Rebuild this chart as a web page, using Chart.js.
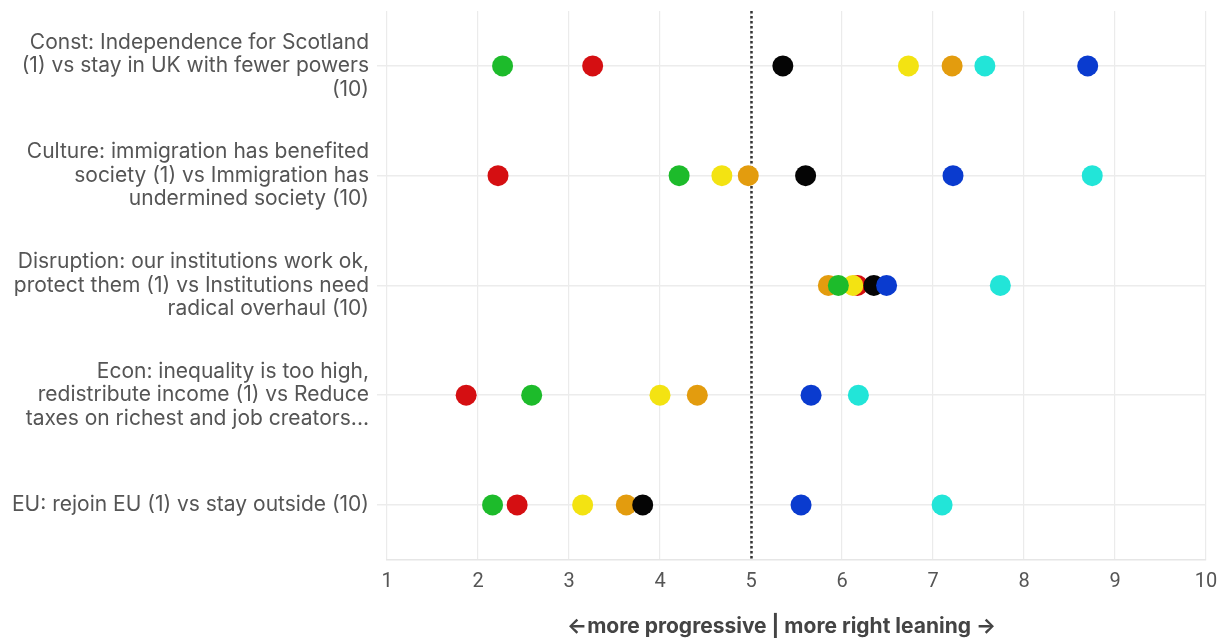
<!DOCTYPE html>
<html>
<head>
<meta charset="utf-8">
<script src="https://cdn.jsdelivr.net/npm/chart.js@4.4.1/dist/chart.umd.min.js"></script>
<style>
  html, body { margin: 0; padding: 0; background: #fff; }
  #wrap { width: 1221px; height: 640px; position: relative; }
</style>
</head>
<body>
<div id="wrap"><canvas id="c" width="1221" height="640"></canvas></div>
<script>
// Categories (multi-line labels)
const categories = [
  ["Const: Independence for Scotland", "(1) vs stay in UK with fewer powers", "(10)"],
  ["Culture: immigration has benefited", "society (1) vs Immigration has", "undermined society (10)"],
  ["Disruption: our institutions work ok,", "protect them (1) vs Institutions need", "radical overhaul (10)"],
  ["Econ: inequality is too high,", "redistribute income (1) vs Reduce", "taxes on richest and job creators..."],
  ["EU: rejoin EU (1) vs stay outside (10)"]
];

// Series values (one per category, in order above)
const greenVals  = [2.27, 4.21, 5.96, 2.59, 2.16];
const redVals    = [3.26, 2.22, 6.17, 1.87, 2.43];
const blackVals  = [5.35, 5.60, 6.35, null, 3.81];
const yellowVals = [6.73, 4.68, 6.12, 4.00, 3.15];
const orangeVals = [7.21, 4.97, 5.85, 4.41, 3.63];
const cyanVals   = [7.57, 8.75, 7.74, 6.18, 7.10];
const blueVals   = [8.70, 7.22, 6.49, 5.66, 5.55];

const xTicks = [1, 2, 3, 4, 5, 6, 7, 8, 9, 10];
const midpoint = 5;
const axisTitle = "\u2190more progressive | more right leaning \u2192\u00A0\u00A0\u00A0\u00A0\u00A0\u00A0";

function ds(label, data, color, order) {
  return {
    label, data, order,
    backgroundColor: color,
    borderColor: color,
    borderWidth: 0,
    pointRadius: 10.5,
    pointHoverRadius: 10.5,
    pointBorderWidth: 0,
    showLine: false
  };
}

const refLine = {
  id: 'refLine',
  beforeDatasetsDraw(chart) {
    const {ctx, chartArea, scales} = chart;
    const x = Math.round(scales.x.getPixelForValue(midpoint)) + 0.5;
    ctx.save();
    ctx.strokeStyle = '#333';
    ctx.lineWidth = 2.5;
    ctx.setLineDash([2.5, 2.5]);
    ctx.beginPath();
    ctx.moveTo(x, chartArea.top);
    ctx.lineTo(x, chartArea.bottom);
    ctx.stroke();
    ctx.restore();
  }
};

new Chart(document.getElementById('c'), {
  type: 'line',
  data: {
    labels: categories,
    datasets: [
      ds('Orange', orangeVals, '#E39C0E', 7),
      ds('Red', redVals, '#D50F12', 6),
      ds('Yellow', yellowVals, '#F3E312', 5),
      ds('Green', greenVals, '#1DBB2B', 4),
      ds('Black', blackVals, '#050505', 3),
      ds('Blue', blueVals, '#0A3BCF', 2),
      ds('Cyan', cyanVals, '#22E5D8', 1)
    ]
  },
  options: {
    indexAxis: 'y',
    responsive: false,
    animation: false,
    layout: { padding: { top: 11, right: 0, bottom: 1, left: 0 } },
    plugins: { legend: { display: false }, tooltip: { enabled: false } },
    scales: {
      x: {
        type: 'linear',
        min: 1, max: 10,
        afterBuildTicks(scale) { scale.ticks = xTicks.map(v => ({ value: v })); },
        afterFit(scale) { scale.paddingRight = 15; scale.paddingLeft = 0; },
        ticks: { color: '#555', font: { family: 'Roboto', size: 20 }, padding: 10 },
        grid: { color: '#ebebeb', lineWidth: 1.2, drawTicks: false },
        border: { color: '#e6e6e6', width: 1.5 },
        title: {
          display: true,
          text: axisTitle,
          color: '#444',
          font: { family: 'Inter', size: 21, weight: 'bold' },
          padding: { top: 10, bottom: 0 }
        }
      },
      y: {
        type: 'category',
        offset: true,
        afterFit(scale) {
          scale.width = 387;
          scale.paddingTop = 0;
          scale.paddingBottom = 0;
        },
        ticks: {
          color: '#555',
          font: { family: 'Inter', size: 21, lineHeight: 1.12 },
          padding: 8
        },
        grid: { offset: false, color: '#ececec', lineWidth: 1.5, tickLength: 10 },
        border: { display: false }
      }
    }
  },
  plugins: [refLine]
});
</script>
</body>
</html>
